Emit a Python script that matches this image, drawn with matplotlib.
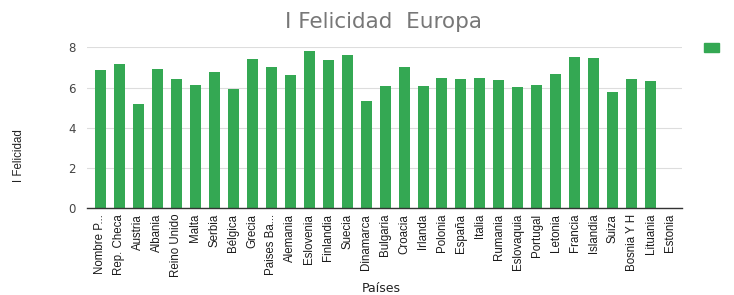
import matplotlib
matplotlib.use("Agg")
import matplotlib.pyplot as plt
from matplotlib.patches import Patch
from matplotlib import font_manager

paises = ["Nombre P...", "Rep. Checa", "Austria", "Albania", "Reino Unido", "Malta",
          "Serbia", "Bélgica", "Grecia", "Paises Ba...", "Alemania", "Eslovenia",
          "Finlandia", "Suecia", "Dinamarca", "Bulgaria", "Croacia", "Irlanda",
          "Polonia", "España", "Italia", "Rumania", "Eslovaquia", "Portugal",
          "Letonia", "Francia", "Islandia", "Suiza", "Bosnia Y H", "Lituania", "Estonia"]
felicidad = [6.89, 7.15, 5.18, 6.94, 6.44, 6.14, 6.77, 5.93, 7.40, 7.02, 6.61, 7.81,
             7.35, 7.60, 5.35, 6.09, 7.02, 6.09, 6.47, 6.44, 6.47, 6.39, 6.01, 6.14,
             6.69, 7.53, 7.47, 5.78, 6.44, 6.31, None]
yticks = [0, 2, 4, 6, 8]

names = {f.name for f in font_manager.fontManager.ttflist}
narrow = "Liberation Sans Narrow" if "Liberation Sans Narrow" in names else "Liberation Sans"

fig = plt.figure(figsize=(7.34, 2.95), dpi=100)
ax = fig.add_axes([87/734, 1-208.3/295, (682-87)/734, (208.3-47.3)/295])

green = "#34A853"
xs = [i for i, v in enumerate(felicidad) if v is not None]
vals = [v for v in felicidad if v is not None]
ax.bar(xs, vals, width=0.58, color=green, zorder=3)

ax.set_xlim(-0.71, 30.65)
ax.set_ylim(0, 8)
ax.set_yticks(yticks)
ax.set_yticklabels([str(t) for t in yticks], fontsize=8.5, color="#444444", family="DejaVu Sans")
ax.set_xticks(range(len(paises)))
ax.set_xticklabels(paises, rotation=90, fontsize=8.3, family=narrow, color="#1a1a1a")
ax.tick_params(axis="x", length=0, pad=4)
ax.tick_params(axis="y", length=0, pad=8)
ax.grid(axis="y", color="#dddddd", linewidth=0.8, zorder=0)
for s in ["top", "right", "left"]:
    ax.spines[s].set_visible(False)
ax.spines["bottom"].set_color("#333333")
ax.spines["bottom"].set_linewidth(1.0)
ax.spines["bottom"].set_zorder(4)

fig.text(384/734, 1-22/295, "I Felicidad  Europa", ha="center", va="center",
         fontsize=15.5, color="#777777", family="DejaVu Sans")
fig.text(381/734, 1-288/295, "Países", ha="center", va="center",
         fontsize=9, color="#222222", family="DejaVu Sans")
fig.text(19/734, 1-156/295, "I Felicidad", ha="center", va="center", rotation=90,
         fontsize=8.3, color="#222222", family=narrow)

leg = fig.legend(handles=[Patch(facecolor=green, edgecolor=green)], labels=[""],
                 loc="center", bbox_to_anchor=(716/734, 1-48/295), frameon=False,
                 handlelength=1.4, handleheight=0.95, fontsize=8)

fig.savefig("out.png", dpi=100)
